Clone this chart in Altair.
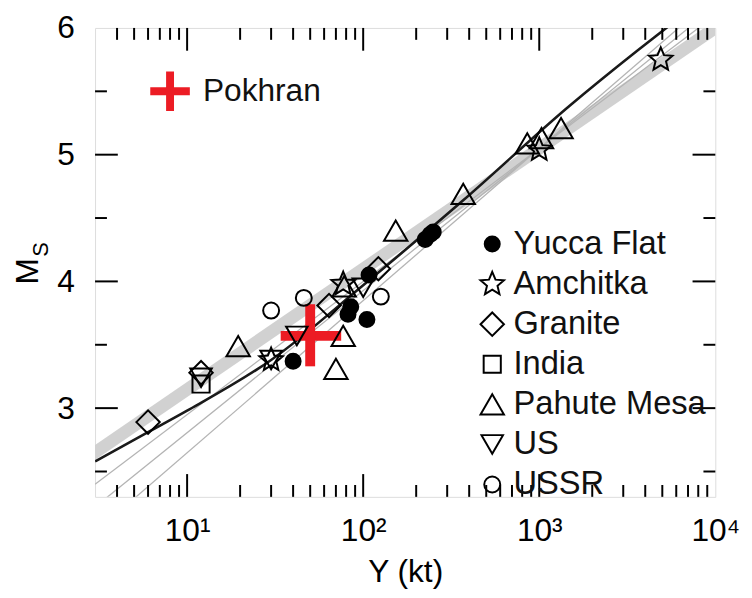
import altair as alt
import pandas as pd

FONT = "Liberation Sans"

# ---------------- data ----------------
groups = ["Yucca Flat", "Amchitka", "Granite", "India", "Pahute Mesa", "US", "USSR"]

yucca_Y = [40, 82, 85, 105, 108, 225, 240, 250]
yucca_M = [3.37, 3.74, 3.80, 3.70, 4.05, 4.33, 4.37, 4.39]
amch_Y = [30, 77, 1000, 4900]
amch_M = [3.38, 3.98, 5.04, 5.75]
gran_Y = [6, 12, 64, 122]
gran_M = [2.89, 3.28, 3.81, 4.10]
india_Y = [12]
india_M = [3.19]
pahute_Y = [19.5, 70, 77, 78, 153, 370, 855, 1030, 1330]
pahute_M = [3.49, 3.31, 3.57, 3.96, 4.40, 4.69, 5.09, 5.13, 5.21]
us_Y = [12, 30, 42, 100]
us_M = [3.24, 3.38, 3.57, 3.95]
ussr_Y = [30, 46, 126]
ussr_M = [3.77, 3.87, 3.88]

# black regression curve (points read along it)
curve_Y = [3, 6, 10, 30, 100, 370, 1500, 3600, 5500]
curve_M = [2.58, 2.81, 2.98, 3.38, 3.97, 4.64, 5.39, 5.82, 6.02]

# grey band (edges read at both ends)
band_Y = [3, 10000]
band_lo = [2.59, 5.94]
band_hi = [2.71, 6.06]

# thin grey lines (end points read at both ends)
thin_id = ["a", "a", "b", "b", "c", "c"]
thin_Y = [3, 10000, 3, 10000, 3, 10000]
thin_M = [2.40, 6.10, 2.22, 6.17, 2.02, 6.25]

# Pokhran estimate with its uncertainty
pok_Y = [50]
pok_M = [3.57]
pok_Ylo = [34]
pok_Yhi = [75]
pok_Mlo = [3.33]
pok_Mhi = [3.82]
# Pokhran key in the upper left
pkey_Y = [8]
pkey_M = [5.5]
pkey_textY = [12.3]
pkey_label = ["Pokhran"]

# ticks
x_major = [10, 100, 1000]
x_minor = [4, 5, 6, 7, 8, 9, 20, 30, 40, 50, 60, 70, 80, 90,
           200, 300, 400, 500, 600, 700, 800, 900,
           2000, 3000, 4000, 5000, 6000, 7000, 8000, 9000]
y_major = [3, 4, 5]
y_minor = [2.5, 3.5, 4.5, 5.5]
x_labels = [10, 100, 1000, 10000]
y_labels = [3, 4, 5, 6]

# ---------------- build tables ----------------
rows = []
for g, ys, ms in [("Yucca Flat", yucca_Y, yucca_M), ("Amchitka", amch_Y, amch_M),
                  ("Granite", gran_Y, gran_M), ("India", india_Y, india_M),
                  ("Pahute Mesa", pahute_Y, pahute_M), ("US", us_Y, us_M),
                  ("USSR", ussr_Y, ussr_M)]:
    for y, m in zip(ys, ms):
        rows.append({"group": g, "Y": y, "M": m})
pts = pd.DataFrame(rows)

curve = pd.DataFrame({"Y": curve_Y, "M": curve_M})
band = pd.DataFrame({"Y": band_Y, "M": band_lo, "M2": band_hi})
thin = pd.DataFrame({"id": thin_id, "Y": thin_Y, "M": thin_M})
pok = pd.DataFrame({"Y": pok_Y, "M": pok_M, "Ylo": pok_Ylo, "Yhi": pok_Yhi,
                    "Mlo": pok_Mlo, "Mhi": pok_Mhi})
pkey = pd.DataFrame({"Y": pkey_Y, "M": pkey_M, "Yt": pkey_textY, "label": pkey_label})

STAR = ("M0,-1L0.264,-0.364L0.951,-0.309L0.428,0.139L0.588,0.809L0,0.45"
        "L-0.588,0.809L-0.428,0.139L-0.951,-0.309L-0.264,-0.364Z")
CROSS = "M-1,-0.2H1V0.2H-1Z M-0.2,-1H0.2V1H-0.2Z"
RED = "#ec1c24"

xscale = alt.Scale(type="log", domain=[3, 10000], nice=False)
yscale = alt.Scale(domain=[2.3, 6], nice=False, zero=False)

xaxis = alt.Axis(values=x_labels,
                 labelExpr="'10' + ['', '\u00b9', '\u00b2', '\u00b3', '\u2074'][round(log(datum.value)/LN10)]",
                 ticks=False, tickSize=0, domain=False, grid=False,
                 labelFontSize=32, labelFont=FONT, labelColor="black", labelPadding=19,
                 labelFlush=False, labelOverlap=False,
                 title="Y (kt)", titleFontSize=32, titleFont=FONT, titleFontWeight="normal",
                 titleColor="black", titlePadding=11)
yaxis = alt.Axis(values=y_labels, ticks=False, tickSize=0, domain=False, grid=False,
                 labelFontSize=32, labelFont=FONT, labelColor="black", labelPadding=21,
                 labelFlush=False, labelOverlap=False, title=None)


def X(field):
    return alt.X(field, type="quantitative", scale=xscale, axis=xaxis, title="Y (kt)")


def Yc(field):
    return alt.Y(field, type="quantitative", scale=yscale, axis=yaxis, title=None)


band_layer = alt.Chart(band).mark_area(color="#cccccc", opacity=0.9, clip=True).encode(
    x=X("Y"), y=Yc("M"), y2="M2")

thin_layer = alt.Chart(thin).mark_line(color="#b4b4b4", strokeWidth=1.3, clip=True).encode(
    x=X("Y"), y=Yc("M"), detail="id:N")

curve_layer = alt.Chart(curve).mark_line(color="#1a1a1a", strokeWidth=2.6, clip=True,
                                         interpolate="monotone").encode(
    x=X("Y"), y=Yc("M"))

pok_h = alt.Chart(pok).mark_rule(color=RED, strokeWidth=10).encode(
    x=X("Ylo"), x2="Yhi", y=Yc("M"))
pok_v = alt.Chart(pok).mark_rule(color=RED, strokeWidth=10).encode(
    x=X("Y"), y=Yc("Mlo"), y2="Mhi")

pkey_pt = alt.Chart(pkey).mark_point(shape=CROSS, size=1600, filled=True, color=RED,
                                     opacity=1, strokeWidth=0).encode(
    x=X("Y"), y=Yc("M"))
pkey_txt = alt.Chart(pkey).mark_text(align="left", baseline="middle", fontSize=32,
                                     font=FONT, color="#111111").encode(
    x=X("Yt"), y=Yc("M"), text="label:N")

legend = alt.Legend(orient="none", legendX=385, legendY=202, title=None,
                    labelFontSize=33, labelFont=FONT, labelColor="#111111", labelLimit=400,
                    rowPadding=6.5, labelOffset=5, padding=0,
                    symbolStrokeWidth=2, symbolOpacity=1)

shape_range = ["circle", STAR, "diamond", "square", "triangle-up", "triangle-down", "circle"]
fill_range = ["black", "transparent", "transparent", "transparent", "transparent",
              "transparent", "transparent"]
stroke_range = ["black"] * 7
size_range = [230, 620, 560, 300, 560, 470, 260]

points_layer = alt.Chart(pts).mark_point(strokeWidth=2, opacity=1).encode(
    x=X("Y"), y=Yc("M"),
    shape=alt.Shape("group:N", scale=alt.Scale(domain=groups, range=shape_range), legend=legend),
    fill=alt.Fill("group:N", scale=alt.Scale(domain=groups, range=fill_range), legend=legend),
    stroke=alt.Stroke("group:N", scale=alt.Scale(domain=groups, range=stroke_range), legend=legend),
    size=alt.Size("group:N", scale=alt.Scale(type="ordinal", domain=groups, range=size_range),
                  legend=legend),
)

# inward ticks
tick_layers = []
for vals, ln in [(x_major, 23), (x_minor, 12)]:
    d = pd.DataFrame({"Y": vals})
    tick_layers.append(alt.Chart(d).mark_rule(color="black", strokeWidth=2).encode(
        x=X("Y"), y=alt.value(474), y2=alt.value(474 - ln)))
    tick_layers.append(alt.Chart(d).mark_rule(color="black", strokeWidth=2).encode(
        x=X("Y"), y=alt.value(0), y2=alt.value(ln)))
for vals, ln in [(y_major, 23), (y_minor, 12)]:
    d = pd.DataFrame({"M": vals})
    tick_layers.append(alt.Chart(d).mark_rule(color="black", strokeWidth=2).encode(
        y=Yc("M"), x=alt.value(0), x2=alt.value(ln)))
    tick_layers.append(alt.Chart(d).mark_rule(color="black", strokeWidth=2).encode(
        y=Yc("M"), x=alt.value(627), x2=alt.value(627 - ln)))

# y-axis title M with subscript S
title_df = pd.DataFrame({"t": ["M"], "s": ["S"]})
ytitle_M = alt.Chart(title_df).mark_text(angle=270, fontSize=32, font=FONT, color="black",
                                         align="center", baseline="middle").encode(
    text="t:N", x=alt.value(-68), y=alt.value(246))
ytitle_S = alt.Chart(title_df).mark_text(angle=270, fontSize=22, font=FONT, color="black",
                                         align="center", baseline="middle").encode(
    text="s:N", x=alt.value(-55), y=alt.value(224))

chart = alt.layer(
    band_layer, thin_layer, curve_layer, pok_h, pok_v,
    points_layer, pkey_pt, pkey_txt, *tick_layers, ytitle_M, ytitle_S
).properties(
    width=627, height=474,
    autosize=alt.AutoSizeParams(type="none"),
    padding={"left": 88, "top": 17, "right": 29, "bottom": 91},
).configure_view(stroke="black", strokeWidth=2.5).configure(background="white")

chart.save("out.html", embed_options={"renderer": "svg", "actions": False})
